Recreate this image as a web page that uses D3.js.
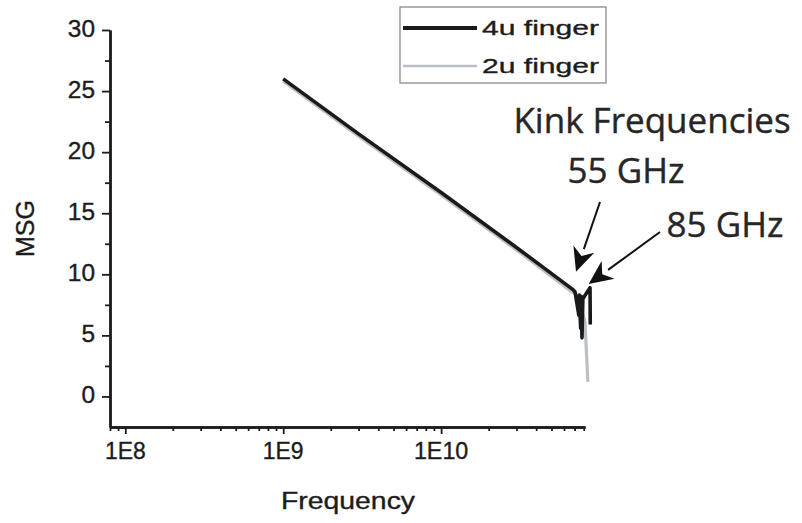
<!DOCTYPE html>
<html>
<head>
<meta charset="utf-8">
<script src="https://cdn.jsdelivr.net/npm/d3@7"></script>
<style>
  body { margin: 0; background: #fff; }
  svg { display: block; }
</style>
</head>
<body>
<svg id="chart"></svg>
<script>
// 4u finger (black) - frequency in Hz, MSG in dB
const freq4u = [1e9, 3e9, 1e10, 3e10, 6.84e10, 7.05e10, 7.45e10, 7.5e10, 7.65e10, 7.7e10, 7.8e10, 7.9e10, 8.77e10, 8.8e10];
const msg4u = [26.0, 21.5, 16.7, 12.2, 8.75, 8.55, 6.65, 8.3, 5.6, 8.2, 4.8, 8.0, 8.9, 5.9];

// 2u finger (gray)
const freq2u = [1e9, 3e9, 1e10, 3e10, 6.84e10, 7.26e10, 8.15e10, 8.5e10];
const msg2u = [25.8, 21.3, 16.5, 12.0, 8.5, 8.3, 6.1, 1.2];

const xTickValues = [1e8, 1e9, 1e10];
const xTickLabels = ["1E8", "1E9", "1E10"];
const yTickValues = [0, 5, 10, 15, 20, 25, 30];
const yMinorValues = [2.5, 7.5, 12.5, 17.5, 22.5, 27.5];

const legendLabels = ["4u finger", "2u finger"];
const kinkTitle = "Kink Frequencies";
const kinkLabels = ["55 GHz", "85 GHz"];
// arrow tips, in data space
const kinkFreq = [7.15e10, 8.6e10];
const kinkMsg = [10.2, 9.2];

const svg = d3.select("#chart")
  .attr("width", 802)
  .attr("height", 523);

const x = d3.scaleLog()
  .domain([8e7, 8.15e10])
  .range([110, 585]);

const y = d3.scaleLinear()
  .domain([-2.5, 30])
  .range([427, 30]);

const axisFont = "'Liberation Sans', Arial, sans-serif";
const ink = "#1c1c1c";

// minor ticks on the x axis: 2..9 in every decade
const xMinor = [];
[7, 8, 9, 10].forEach(p => {
  for (let m = 2; m <= 9; m++) {
    const v = m * Math.pow(10, p);
    if (v >= x.domain()[0] && v <= x.domain()[1]) xMinor.push(v);
  }
});

function heavyText(sel, size) {
  sel.attr("font-family", axisFont)
    .attr("font-size", size)
    .attr("fill", ink)
    .attr("stroke", ink)
    .attr("stroke-width", 0.35);
}

// axes
const gx = svg.append("g")
  .attr("transform", `translate(0,${y.range()[0]})`);
gx.call(d3.axisBottom(x).tickValues(xTickValues).tickFormat("").tickSize(7).tickSizeOuter(0));
gx.append("g").call(d3.axisBottom(x).tickValues(xMinor).tickFormat("").tickSize(4).tickSizeOuter(0));
gx.selectAll("path.domain").attr("stroke", ink).attr("stroke-width", 2.4);
gx.selectAll(".tick line").attr("stroke", ink).attr("stroke-width", 1.8);

gx.selectAll("text.xlab")
  .data(xTickValues)
  .enter().append("text")
  .attr("class", "xlab")
  .attr("x", d => x(d))
  .attr("y", 32)
  .attr("text-anchor", "middle")
  .attr("textLength", (d, i) => xTickLabels[i].length * 13.6)
  .attr("lengthAdjust", "spacingAndGlyphs")
  .call(heavyText, 23)
  .text((d, i) => xTickLabels[i]);

const gy = svg.append("g")
  .attr("transform", `translate(${x.range()[0]},0)`);
gy.call(d3.axisLeft(y).tickValues(yTickValues).tickFormat("").tickSize(8).tickSizeOuter(0));
gy.append("g").call(d3.axisLeft(y).tickValues(yMinorValues).tickFormat("").tickSize(5).tickSizeOuter(0));
gy.selectAll("path.domain").attr("stroke", ink).attr("stroke-width", 2.4);
gy.selectAll(".tick line").attr("stroke", ink).attr("stroke-width", 1.8);

gy.selectAll("text.ylab")
  .data(yTickValues)
  .enter().append("text")
  .attr("class", "ylab")
  .attr("x", -15)
  .attr("y", d => y(d))
  .attr("dy", "0.3em")
  .attr("text-anchor", "end")
  .attr("textLength", d => String(d).length * 13.6)
  .attr("lengthAdjust", "spacingAndGlyphs")
  .call(heavyText, 23)
  .text(d => d);

// axis titles
svg.append("text")
  .attr("x", 348)
  .attr("y", 509)
  .attr("text-anchor", "middle")
  .attr("textLength", 134)
  .attr("lengthAdjust", "spacingAndGlyphs")
  .call(heavyText, 24)
  .text("Frequency");

svg.append("text")
  .attr("transform", `translate(34,${(y(30) + y(-2.5)) / 2}) rotate(-90)`)
  .attr("text-anchor", "middle")
  .call(heavyText, 25)
  .text("MSG");

// lines
const line = d3.line()
  .x(d => x(d[0]))
  .y(d => y(d[1]));

svg.append("path")
  .datum(d3.zip(freq2u, msg2u))
  .attr("d", line)
  .attr("fill", "none")
  .attr("stroke", "#bcc0c4")
  .attr("stroke-width", 3.2)
  .attr("stroke-linejoin", "round");

svg.append("path")
  .datum(d3.zip(freq4u, msg4u))
  .attr("d", line)
  .attr("fill", "none")
  .attr("stroke", "#1a1a1a")
  .attr("stroke-width", 3.6)
  .attr("stroke-linejoin", "round");

// legend
const legend = svg.append("g").attr("transform", "translate(400,7)");
legend.append("rect")
  .attr("width", 206)
  .attr("height", 76)
  .attr("fill", "#fff")
  .attr("stroke", "#8a8a8a")
  .attr("stroke-width", 1.3);

const legendColors = ["#1a1a1a", "#bcc0c4"];
legendLabels.forEach((label, i) => {
  const row = legend.append("g").attr("transform", `translate(0,${21 + i * 38})`);
  row.append("line")
    .attr("x1", 3).attr("x2", 77)
    .attr("stroke", legendColors[i])
    .attr("stroke-width", i === 0 ? 3.8 : 2.6);
  row.append("text")
    .attr("x", 82)
    .attr("y", 7)
    .attr("textLength", 117)
    .attr("lengthAdjust", "spacingAndGlyphs")
    .call(heavyText, 21)
    .text(label);
});

// annotation
const annFont = "'Open Sans', 'Noto Sans', sans-serif";
svg.append("text")
  .attr("x", 652)
  .attr("y", 133)
  .attr("text-anchor", "middle")
  .attr("font-family", annFont)
  .attr("font-size", 35)
  .attr("fill", "#262626")
  .attr("stroke", "#262626")
  .attr("stroke-width", 0.4)
  .text(kinkTitle);

const labelPos = [[626, 183], [725, 237]];
const tailPos = [[600, 202], [660, 232]];

kinkLabels.forEach((label, i) => {
  svg.append("text")
    .attr("x", labelPos[i][0])
    .attr("y", labelPos[i][1])
    .attr("text-anchor", "middle")
    .attr("font-family", annFont)
    .attr("font-size", 35)
    .attr("fill", "#262626")
    .attr("stroke", "#262626")
    .attr("stroke-width", 0.4)
    .text(label);

  const tx = x(kinkFreq[i]), ty = y(kinkMsg[i]);
  const ang = Math.atan2(ty - tailPos[i][1], tx - tailPos[i][0]);
  const len = 24, half = 11;
  const bx = tx - len * Math.cos(ang), by = ty - len * Math.sin(ang);
  const px = -Math.sin(ang) * half, py = Math.cos(ang) * half;

  svg.append("line")
    .attr("x1", tailPos[i][0])
    .attr("y1", tailPos[i][1])
    .attr("x2", bx)
    .attr("y2", by)
    .attr("stroke", "#111")
    .attr("stroke-width", 2);

  // arrow head as a filled triangle
  svg.append("path")
    .attr("d", `M${tx},${ty} L${bx + px},${by + py} L${bx + (tx - bx) * 0.3},${by + (ty - by) * 0.3} L${bx - px},${by - py} Z`)
    .attr("fill", "#111");
});
</script>
</body>
</html>
